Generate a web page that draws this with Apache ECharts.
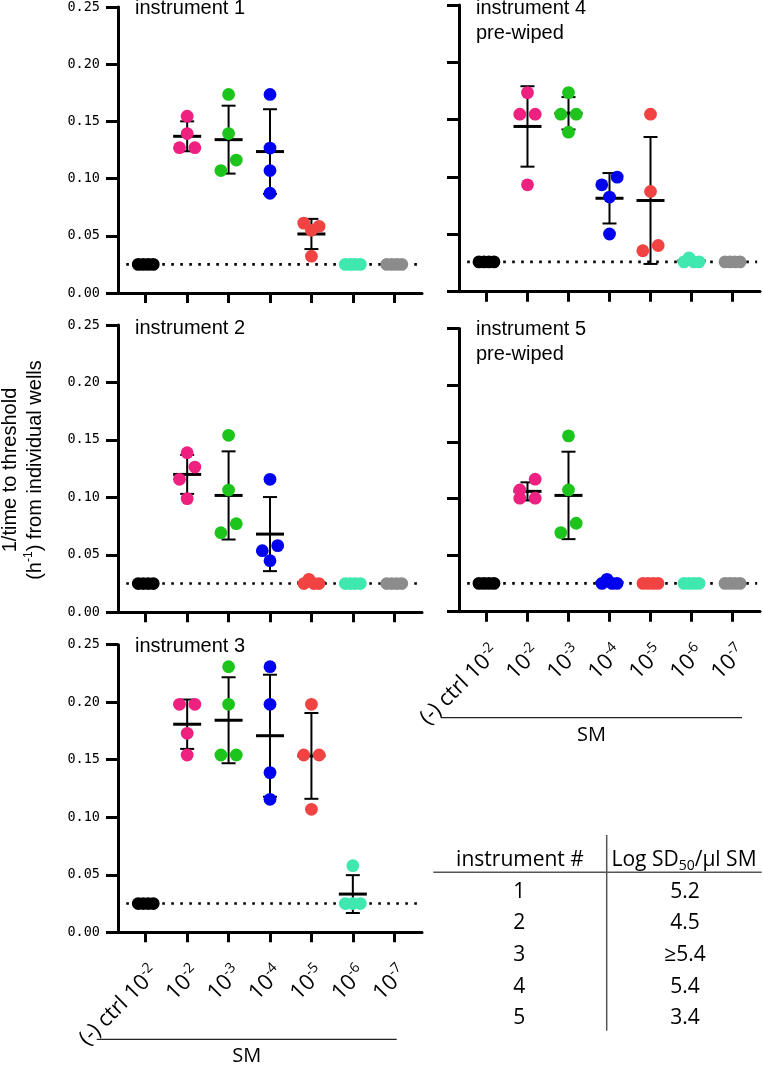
<!DOCTYPE html>
<html>
<head>
<meta charset="utf-8">
<script src="https://cdn.jsdelivr.net/npm/echarts@6.0.0/dist/echarts.min.js"></script>
<style>html,body{margin:0;padding:0;background:#fff}#c{width:763px;height:1066px}</style>
</head>
<body>
<div id="c"></div>
<script>
// ---------- data ----------
const categoryBase = ['(-) ctrl 10', '10', '10', '10', '10', '10', '10'];
const categoryExp = ['-2', '-2', '-3', '-4', '-5', '-6', '-7'];
const yTickLabels = ['0.00', '0.05', '0.10', '0.15', '0.20', '0.25'];
const panelTitles = [['instrument 1'], ['instrument 2'], ['instrument 3'], ['instrument 4', 'pre-wiped'], ['instrument 5', 'pre-wiped']];

const inst1 = [
  [0.025, 0.025, 0.025, 0.025],
  [0.1545, 0.1394, 0.127, 0.127],
  [0.1736, 0.1394, 0.1162, 0.107],
  [0.1736, 0.1267, 0.107, 0.0872],
  [0.0611, 0.0583, 0.0548, 0.0322],
  [0.025, 0.025, 0.025, 0.025],
  [0.025, 0.025, 0.025, 0.025]
];
const inst2 = [
  [0.025, 0.025, 0.025, 0.025],
  [0.1389, 0.1264, 0.1157, 0.0989],
  [0.154, 0.1064, 0.0771, 0.0693],
  [0.1157, 0.058, 0.0536, 0.0449],
  [0.0287, 0.025, 0.025, 0.025],
  [0.025, 0.025, 0.025, 0.025],
  [0.025, 0.025, 0.025, 0.025]
];
const inst3 = [
  [0.025, 0.025, 0.025, 0.025],
  [0.1982, 0.1982, 0.173, 0.1541],
  [0.2309, 0.1982, 0.1541, 0.1541],
  [0.2309, 0.1982, 0.1388, 0.1156],
  [0.1982, 0.1541, 0.1541, 0.1069],
  [0.0579, 0.025, 0.025, 0.025],
  []
];
const inst4 = [
  [0.026, 0.026, 0.026, 0.026],
  [0.1736, 0.1548, 0.1548, 0.0932],
  [0.1736, 0.1548, 0.1548, 0.1391],
  [0.0999, 0.0932, 0.0825, 0.0503],
  [0.1548, 0.0874, 0.0403, 0.0357],
  [0.0295, 0.026, 0.026, 0.026],
  [0.026, 0.026, 0.026, 0.026]
];
const inst5 = [
  [0.025, 0.025, 0.025, 0.025],
  [0.117, 0.1075, 0.1002, 0.1002],
  [0.1552, 0.1075, 0.0781, 0.0698],
  [0.0286, 0.025, 0.025, 0.025],
  [0.025, 0.025, 0.025, 0.025],
  [0.025, 0.025, 0.025, 0.025],
  [0.025, 0.025, 0.025, 0.025]
];
const thresholds = [0.025, 0.025, 0.025, 0.026, 0.025];

const tableHeader = ['instrument #', 'Log SD', '50', '/µl SM'];
const tableInstruments = ['1', '2', '3', '4', '5'];
const tableLogSD = ['5.2', '4.5', '≥5.4', '5.4', '3.4'];

// ---------- styling / layout ----------
const groupColors = ['#000000', '#EE2080', '#1CC41C', '#0000F0', '#F24343', '#3EE8AE', '#8C8C8C'];
const instruments = [inst1, inst2, inst3, inst4, inst5];
const gridBoxes = [
  { left: 118, top: 5.5, width: 304, height: 287.5 },
  { left: 118, top: 325, width: 304, height: 287.3 },
  { left: 118, top: 644.7, width: 304, height: 287.6 },
  { left: 459, top: 5, width: 301, height: 286.7 },
  { left: 459, top: 328.5, width: 301, height: 283.2 }
];
const showX = [false, false, true, false, true];
const showY = [true, true, true, false, false];
const titlePos = [[135, 8], [135, 328], [135, 646], [476, 8], [476, 329]];
const catTicks = [0, 1, 2, 3, 4, 5, 6];

// swarm layout (pixel offsets) computed from values
function swarm(vals, ppu) {
  const idx = vals.map((v, i) => i).sort((a, b) => vals[b] - vals[a]);
  const rows = [];
  idx.forEach(i => {
    const r = rows[rows.length - 1];
    if (r && (vals[r[0]] - vals[i]) * ppu < 13) r.push(i); else rows.push([i]);
  });
  const off = new Array(vals.length).fill(0);
  rows.forEach(r => {
    const n = r.length;
    if (n === 1) return;
    const identical = (vals[r[0]] - vals[r[n - 1]]) * ppu < 1;
    let offs;
    if (n === 2) offs = identical ? [-7.7, 7.7] : [7.7, -7.7];
    else if (n === 3) offs = identical ? [-7.5, 0, 7.5] : [-7.7, 7.7, 0];
    else offs = identical ? [-7.5, -2.5, 2.5, 7.5] : [-2.5, -7.5, 2.5, 7.5];
    r.forEach((i, k) => off[i] = offs[k]);
  });
  return off;
}
function stats(vals) {
  const n = vals.length;
  if (n < 2) return null;
  const m = vals.reduce((a, b) => a + b, 0) / n;
  const sd = Math.sqrt(vals.reduce((a, b) => a + (b - m) * (b - m), 0) / (n - 1));
  return [m, sd];
}

const xFmt = v => '{b|' + categoryBase[v] + '}{s|' + categoryExp[v] + '}';
const xRich = {
  b: { fontSize: 22, fontFamily: 'Open Sans', color: '#000', lineHeight: 27 },
  s: { fontSize: 14, fontFamily: 'Open Sans', color: '#000', lineHeight: 14, verticalAlign: 'top' }
};

const grid = [], xAxis = [], yAxis = [], series = [];
instruments.forEach((inst, i) => {
  grid.push(Object.assign({ containLabel: false }, gridBoxes[i]));
  xAxis.push({
    type: 'value', gridIndex: i, min: -0.67, max: 6.67,
    axisLine: { show: true, onZero: false, lineStyle: { color: '#000', width: 3 } },
    axisTick: { show: true, customValues: catTicks, length: 10, lineStyle: { color: '#000', width: 3 } },
    axisLabel: { show: showX[i], customValues: catTicks, rotate: 45, margin: 28, verticalAlign: 'top', formatter: xFmt, rich: xRich },
    splitLine: { show: false }
  });
  yAxis.push({
    type: 'value', gridIndex: i, min: 0, max: 0.25, interval: 0.05,
    axisLine: { show: true, onZero: false, lineStyle: { color: '#000', width: 3 } },
    axisTick: { show: true, length: 12, lineStyle: { color: '#000', width: 3 } },
    axisLabel: {
      show: showY[i], margin: 18, fontSize: 13.5, color: '#000', fontFamily: 'DejaVu Sans Mono',
      formatter: v => yTickLabels[Math.round(v / 0.05)]
    },
    splitLine: { show: false }
  });
  const ppu = gridBoxes[i].height / 0.25;
  // threshold dotted line
  series.push({
    type: 'line', xAxisIndex: i, yAxisIndex: i, silent: true, symbol: 'none', z: 1,
    data: [[-0.47, thresholds[i]], [6.6, thresholds[i]]],
    lineStyle: { color: '#000', width: 2.6, type: [2.6, 6.4] }
  });
  // error bars (mean ± SD)
  const errData = [];
  inst.forEach((vals, c) => {
    const st = stats(vals);
    if (st && st[1] > 1e-9) errData.push([c, st[0], st[1]]);
  });
  series.push({
    type: 'custom', xAxisIndex: i, yAxisIndex: i, z: 2, silent: true,
    encode: { x: 0, y: 1 },
    data: errData,
    renderItem: (params, api) => {
      const c = api.value(0), m = api.value(1), s = api.value(2);
      const pm = api.coord([c, m]), pt = api.coord([c, m + s]), pb = api.coord([c, m - s]);
      const x = pm[0];
      const st = { stroke: '#000', lineWidth: 2 };
      return {
        type: 'group', children: [
          { type: 'line', shape: { x1: x, y1: pt[1], x2: x, y2: pb[1] }, style: st },
          { type: 'line', shape: { x1: x - 7, y1: pt[1], x2: x + 7, y2: pt[1] }, style: st },
          { type: 'line', shape: { x1: x - 7, y1: pb[1], x2: x + 7, y2: pb[1] }, style: st },
          { type: 'line', shape: { x1: x - 14, y1: pm[1], x2: x + 14, y2: pm[1] }, style: { stroke: '#000', lineWidth: 3 } }
        ]
      };
    }
  });
  // dots
  const dotData = [];
  inst.forEach((vals, c) => {
    const off = swarm(vals, ppu);
    vals.forEach((v, k) => dotData.push([c, v, off[k], c]));
  });
  series.push({
    type: 'custom', xAxisIndex: i, yAxisIndex: i, z: 3, silent: true,
    encode: { x: 0, y: 1 },
    data: dotData,
    renderItem: (params, api) => {
      const p = api.coord([api.value(0), api.value(1)]);
      return { type: 'circle', shape: { cx: p[0] + api.value(2), cy: p[1], r: 6.4 }, style: { fill: groupColors[api.value(3)] } };
    }
  });
});

// ---------- graphics (titles, labels, table) ----------
const graphic = [];
panelTitles.forEach((lines, i) => {
  lines.forEach((t, k) => graphic.push({
    type: 'text', x: titlePos[i][0], y: titlePos[i][1] + k * 25,
    style: { text: t, fontSize: 20, fontFamily: 'Liberation Sans', fill: '#000', textAlign: 'left', textVerticalAlign: 'middle' }
  }));
});
graphic.push({
  type: 'text', x: 23, y: 470, rotation: Math.PI / 2,
  style: {
    text: '{a|1/time to threshold}\n{a|(h}{s|-1}{a|) from individual wells}',
    align: 'center', verticalAlign: 'middle', textAlign: 'center', textVerticalAlign: 'middle',
    rich: {
      a: { fontSize: 20, fontFamily: 'Liberation Sans', fill: '#000', color: '#000', lineHeight: 24.5, align: 'center' },
      s: { fontSize: 12, fontFamily: 'Liberation Sans', fill: '#000', color: '#000', lineHeight: 12, verticalAlign: 'top' }
    }
  }
});
// SM group lines
[[96.7, 396.7, 1039.3, 1056.7], [441, 742, 717.7, 735]].forEach(g => {
  graphic.push({ type: 'line', shape: { x1: g[0], y1: g[2], x2: g[1], y2: g[2] }, style: { stroke: '#222', lineWidth: 1.2 } });
  graphic.push({
    type: 'text', x: (g[0] + g[1]) / 2, y: g[3],
    style: { text: 'SM', fontSize: 20, fontFamily: 'Open Sans', fill: '#000', textAlign: 'center', textVerticalAlign: 'middle' }
  });
});
// table
graphic.push({ type: 'line', shape: { x1: 606.7, y1: 835, x2: 606.7, y2: 1030.7 }, style: { stroke: '#555', lineWidth: 1.5 } });
graphic.push({ type: 'line', shape: { x1: 433.3, y1: 872.3, x2: 761.7, y2: 872.3 }, style: { stroke: '#555', lineWidth: 1.5 } });
graphic.push({
  type: 'text', x: 520, y: 860,
  style: { text: tableHeader[0], fontSize: 21, fontFamily: 'Open Sans', fill: '#000', textAlign: 'center', textVerticalAlign: 'middle' }
});
graphic.push({
  type: 'text', x: 684, y: 860,
  style: {
    text: '{a|' + tableHeader[1] + '}{s|' + tableHeader[2] + '}{a|' + tableHeader[3] + '}',
    textAlign: 'center', textVerticalAlign: 'middle', align: 'center', verticalAlign: 'middle',
    rich: {
      a: { fontSize: 21, fontFamily: 'Open Sans', color: '#000', fill: '#000', lineHeight: 26 },
      s: { fontSize: 14, fontFamily: 'Open Sans', color: '#000', fill: '#000', lineHeight: 14, verticalAlign: 'bottom' }
    }
  }
});
const rowY = [891.7, 923.3, 955, 986.7, 1018.3];
tableInstruments.forEach((t, k) => {
  graphic.push({ type: 'text', x: 519.3, y: rowY[k], style: { text: t, fontSize: 21, fontFamily: 'Open Sans', fill: '#000', textAlign: 'center', textVerticalAlign: 'middle' } });
  graphic.push({ type: 'text', x: 685, y: rowY[k], style: { text: tableLogSD[k], fontSize: 21, fontFamily: 'Open Sans', fill: '#000', textAlign: 'center', textVerticalAlign: 'middle' } });
});

const chart = echarts.init(document.getElementById('c'));
chart.setOption({ animation: false, backgroundColor: '#fff', grid, xAxis, yAxis, series, graphic });
</script>
</body>
</html>
